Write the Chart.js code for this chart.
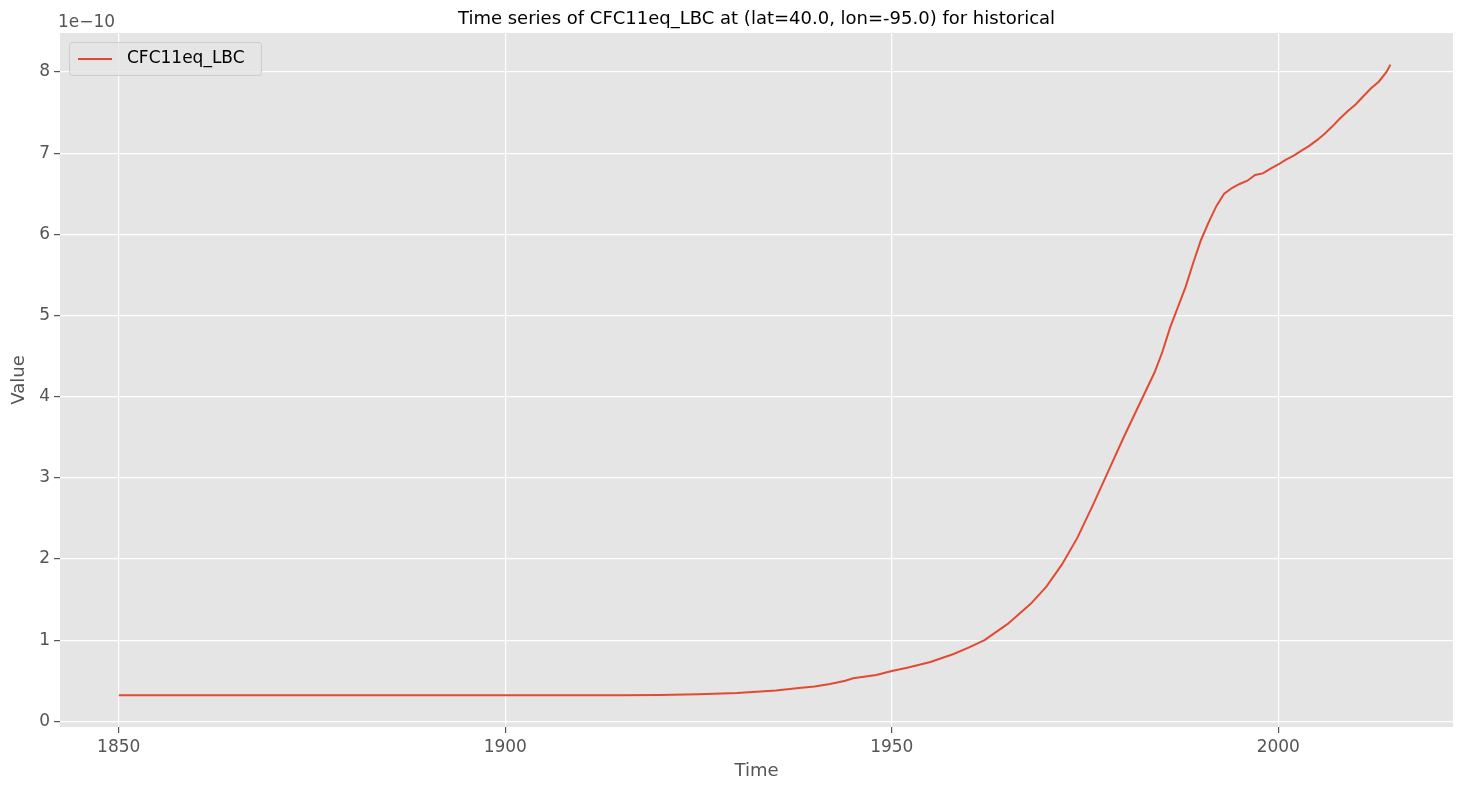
<!DOCTYPE html>
<html><head><meta charset="utf-8">
<script src="https://cdn.jsdelivr.net/npm/chart.js@4"></script>
<style>html,body{margin:0;padding:0;background:#fff}</style>
</head><body>
<canvas id="c" width="1464" height="792" style="width:1464px;height:792px"></canvas>
<script>
const years = [1850,1860,1870,1880,1890,1900,1910,1915,1920,1925,1930,1935,1938,1940,1942,1944,1945,1948,1950,1952,1955,1958,1960,1962,1965,1968,1970,1972,1974,1976,1978,1980,1982,1984,1985,1986,1987,1988,1989,1990,1991,1992,1993,1994,1995,1996,1997,1998,1999,2000,2001,2002,2003,2004,2005,2006,2007,2008,2009,2010,2011,2012,2013,2014,2014.5];
const values = [0.32,0.32,0.32,0.32,0.32,0.32,0.32,0.32,0.325,0.335,0.35,0.38,0.41,0.43,0.46,0.50,0.53,0.57,0.62,0.66,0.73,0.83,0.91,1.0,1.20,1.45,1.66,1.93,2.26,2.66,3.08,3.50,3.90,4.30,4.55,4.85,5.10,5.35,5.65,5.93,6.15,6.35,6.50,6.57,6.62,6.66,6.73,6.75,6.81,6.86,6.92,6.97,7.03,7.09,7.16,7.24,7.33,7.43,7.52,7.60,7.70,7.80,7.88,8.0,8.09];
const xTicks = [1850,1900,1950,2000];
const yTicks = [0,1,2,3,4,5,6,7,8];
const seriesName = 'CFC11eq_LBC';
const titleText = 'Time series of CFC11eq_LBC at (lat=40.0, lon=-95.0) for historical';

const F = 'DejaVu Sans';
const bgPlugin = {
  id:'bg',
  beforeDraw(c){const a=c.chartArea,x=c.ctx;x.save();x.fillStyle='#e5e5e5';x.fillRect(a.left,a.top,a.right-a.left,a.bottom-a.top);x.restore();},
  afterDraw(c){
    const x=c.ctx,a=c.chartArea;x.save();
    x.fillStyle='#000';x.font='18px '+F;x.textAlign='center';x.textBaseline='middle';
    x.fillText(titleText,(a.left+a.right)/2,19);
    x.fillStyle='#555';x.font='17px '+F;x.textAlign='left';
    x.fillText('1e\u221210',58,23);
    x.fillStyle='rgba(229,229,229,0.8)';x.strokeStyle='#cccccc';x.lineWidth=1;
    const lx=69.5,ly=42.5,w=192,h=33;
    x.beginPath();x.roundRect(lx,ly,w,h,3);x.fill();x.stroke();
    x.strokeStyle='#E24A33';x.lineWidth=2;x.beginPath();x.moveTo(78,59);x.lineTo(112,59);x.stroke();
    x.fillStyle='#000';x.font='17px '+F;x.fillText(seriesName,127,59);
    x.restore();
  }
};
new Chart(document.getElementById('c'),{
  type:'line',
  data:{datasets:[{label:seriesName,data:years.map((y,i)=>({x:y,y:values[i]})),borderColor:'#E24A33',borderWidth:2,pointRadius:0,tension:0}]},
  options:{
    responsive:false,animation:false,devicePixelRatio:1,
    layout:{padding:{top:33,right:11,left:5,bottom:0}},
    plugins:{legend:{display:false},tooltip:{enabled:false}},
    scales:{
      x:{type:'linear',min:1842.4,max:2022.6,
        afterBuildTicks(s){s.ticks=xTicks.map(v=>({value:v}));},
        afterFit(s){s.height=65;},
        grid:{color:'#fff',lineWidth:1.2,drawTicks:true,tickLength:6,tickColor:'#555'},border:{display:false},
        ticks:{color:'#555',font:{family:F,size:17},padding:4,maxRotation:0,callback:v=>String(v)},
        title:{display:true,text:'Time',color:'#555',font:{family:F,size:18},padding:{top:0,bottom:10}}},
      y:{min:-0.07,max:8.48,
        afterBuildTicks(s){s.ticks=yTicks.map(v=>({value:v}));},
        afterFit(s){s.width=55;},
        grid:{color:'#fff',lineWidth:1.2,tickLength:6,tickColor:'#555'},border:{display:false},
        ticks:{color:'#555',font:{family:F,size:17},padding:4,callback:v=>String(v)},
        title:{display:true,text:'Value',color:'#555',font:{family:F,size:18},padding:{bottom:2}}}
    }
  },
  plugins:[bgPlugin]
});
</script>
</body></html>
